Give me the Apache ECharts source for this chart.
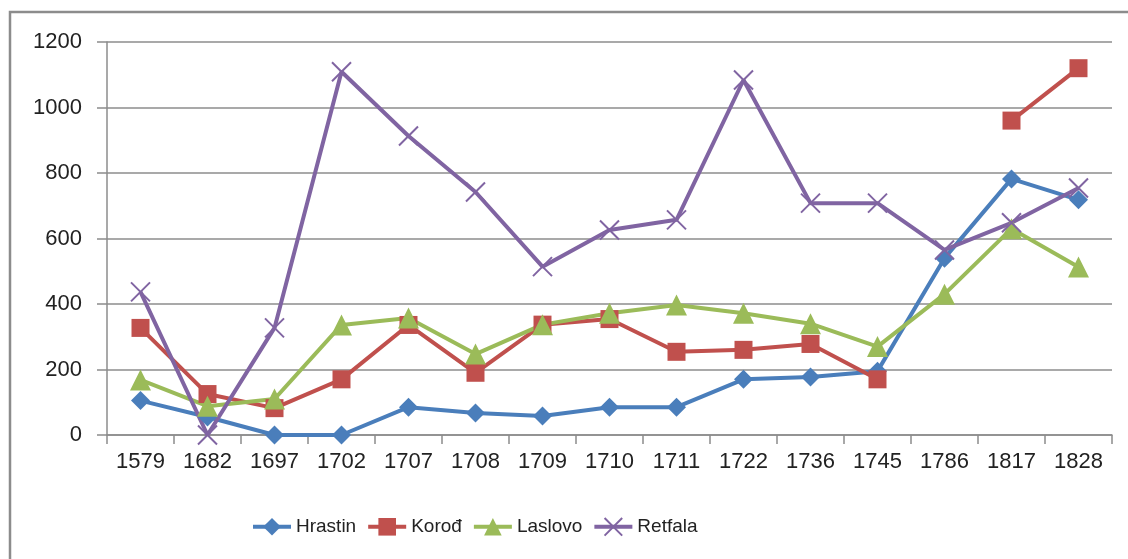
<!DOCTYPE html>
<html>
<head>
<meta charset="utf-8">
<script src="https://cdn.jsdelivr.net/npm/echarts@6/dist/echarts.min.js"></script>
<style>
  html, body { margin: 0; padding: 0; background: #fff; }
  #chart { width: 1128px; height: 559px; }
</style>
</head>
<body>
<div id="chart"></div>
<script>
const years = ['1579', '1682', '1697', '1702', '1707', '1708', '1709', '1710', '1711', '1722', '1736', '1745', '1786', '1817', '1828'];
const hrastin = [105, 55, 0, 0, 85, 67, 58, 85, 85, 170, 177, 195, 540, 782, 718];
const korod = [327, 125, 82, 170, 336, 190, 337, 354, 254, 260, 278, 170, null, 960, 1120];
const laslovo = [168, 88, 110, 336, 357, 247, 337, 372, 397, 372, 340, 270, 430, 630, 513];
const retfala = [437, 0, 327, 1109, 913, 742, 514, 626, 657, 1084, 708, 708, 565, 648, 754];

const font = 'Liberation Sans';
const xMark = 'path://M0,0L10,10M10,0L0,10';

function mkSeries(name, data, color, symbol, size) {
  return {
    name: name,
    type: 'line',
    data: data,
    symbol: symbol,
    symbolSize: size,
    lineStyle: { color: color, width: 4 },
    itemStyle: symbol === xMark
      ? { color: 'rgba(0,0,0,0)', borderColor: color, borderWidth: 2 }
      : { color: color },
    emphasis: { disabled: true }
  };
}

const chart = echarts.init(document.getElementById('chart'));
chart.setOption({
  animation: false,
  backgroundColor: '#fff',
  graphic: [{
    type: 'rect',
    shape: { x: 10, y: 12, width: 1140, height: 580 },
    style: { fill: 'none', stroke: '#8c8c8c', lineWidth: 2.5 },
    z: -1
  }],
  grid: { left: 107, right: 16, top: 42, bottom: 124 },
  xAxis: {
    type: 'category',
    data: years,
    boundaryGap: true,
    axisLine: { lineStyle: { color: '#8c8c8c', width: 1.5 } },
    axisTick: { show: true, length: 9, alignWithLabel: false, lineStyle: { color: '#8c8c8c', width: 1.5 } },
    axisLabel: { color: '#222', fontFamily: font, fontSize: 22, margin: 16 }
  },
  yAxis: {
    type: 'value',
    min: 0,
    max: 1200,
    interval: 200,
    axisLine: { show: true, lineStyle: { color: '#8c8c8c', width: 1.5 } },
    axisTick: { show: true, length: 10, lineStyle: { color: '#8c8c8c', width: 1.5 } },
    axisLabel: { color: '#222', fontFamily: font, fontSize: 22, margin: 25, formatter: v => String(v) },
    splitLine: { lineStyle: { color: '#8c8c8c', width: 1.5 } }
  },
  legend: {
    left: 246,
    top: 512,
    itemWidth: 38,
    itemHeight: 22,
    itemGap: 10,
    lineStyle: { width: 4 },
    textStyle: { color: '#222', fontFamily: font, fontSize: 19 },
    data: ['Hrastin', 'Korođ', 'Laslovo', 'Retfala']
  },
  series: [
    mkSeries('Hrastin', hrastin, '#4a7ebb', 'diamond', 19),
    mkSeries('Korođ', korod, '#c0504d', 'rect', 18),
    mkSeries('Laslovo', laslovo, '#9bbb59', 'triangle', 21),
    mkSeries('Retfala', retfala, '#8064a2', xMark, 19)
  ]
});
</script>
</body>
</html>
